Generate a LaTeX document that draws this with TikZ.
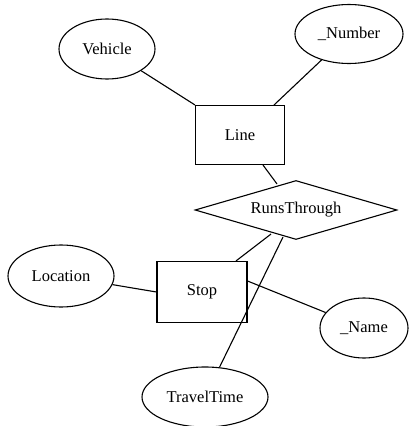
\documentclass[tikz,border=0pt]{standalone}
\usepackage{fontspec}
\setmainfont{Liberation Serif}
\usetikzlibrary{shapes.geometric,calc}
\begin{document}
\begin{tikzpicture}[x=1pt,y=-1pt,
  every node/.style={font=\fontsize{16.5}{19}\selectfont, inner sep=0pt},
  attr/.style={draw, ellipse, line width=1.1pt},
  ent/.style={draw, rectangle, line width=1.1pt},
  rel/.style={draw, diamond, line width=1.1pt},
  conn/.style={line width=1.1pt}]
\useasboundingbox (0,0) rectangle (409,426);
\node[attr, minimum width=96, minimum height=60] (veh) at (107,49) {Vehicle};
\node[attr, minimum width=108, minimum height=59] (num) at (349,34) {\_Number};
\node[ent, minimum width=89, minimum height=59] (line) at (240,135) {Line};
\node[rel, minimum width=202, minimum height=59, aspect=3.4] (runs) at (296,210) {RunsThrough};
\node[ent, minimum width=90, minimum height=61] (stop) at (202,292) {Stop};
\node[attr, minimum width=106, minimum height=62] (loc) at (61,276) {Location};
\node[attr, minimum width=88, minimum height=60] (name) at (364,328) {\_Name};
\node[attr, minimum width=126, minimum height=60] (tt) at (205,397) {TravelTime};
\draw[conn] (veh) -- (line.north west);
\draw[conn] (num) -- ([xshift=-11pt]line.north east);
\draw[conn] ([xshift=23pt]line.south) -- ($(runs.north)+(-19,4)$);
\draw[conn] ($(runs.south)+(-25,-6)$) -- ([xshift=34pt]stop.north);
\draw[conn] (loc) -- (stop.west);
\draw[conn] ([yshift=11pt]stop.east) -- (name);
\draw[conn] ($(runs.south)+(-13,-3)$) -- (tt);
\end{tikzpicture}
\end{document}
